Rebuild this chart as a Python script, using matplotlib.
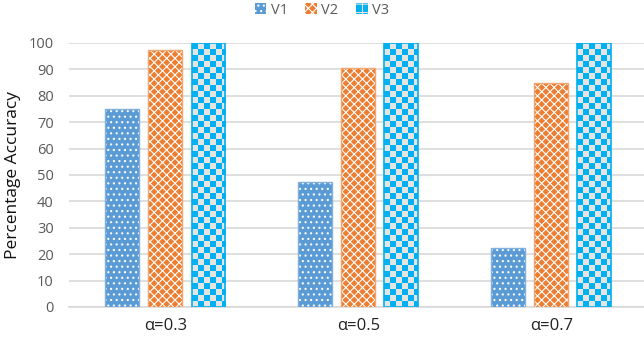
import numpy as np
import matplotlib.pyplot as plt
from matplotlib.patches import Patch
from matplotlib.colors import ListedColormap

plt.rcParams['font.family'] = ['Open Sans', 'DejaVu Sans']
plt.rcParams['hatch.linewidth'] = 0.8

categories = ['α=0.3', 'α=0.5', 'α=0.7']
series = ['V1', 'V2', 'V3']
v1 = [75, 47.5, 22.5]
v2 = [97.5, 90.5, 85]
v3 = [100, 100, 100]
yticks = list(range(0, 101, 10))

blue = '#5B9BD5'
orange = '#ED7D31'
cyan = '#00B0F0'
light = '#E4E4E4'

fig = plt.figure(figsize=(6.44, 3.38), dpi=100)
ax = fig.add_axes([69 / 644, 31 / 338, 575 / 644, 264 / 338])

x = np.arange(len(categories))
w = 0.176
off = 0.223
ax.set_xlim(-0.5, 2.48)
ax.set_ylim(0, 100)

# V1: white dots on blue
ax.bar(x - off, v1, w, color=blue, edgecolor='white', hatch='...', linewidth=0, zorder=3)
ax.bar(x - off, v1, w, fill=False, edgecolor='#7FB0DE', linewidth=1, zorder=4)

# V2: white crosses on orange
ax.bar(x, v2, w, color=orange, edgecolor='white', hatch='xxxx', linewidth=0, zorder=3)
ax.bar(x, v2, w, fill=False, edgecolor='#F4A46E', linewidth=1, zorder=4)

# V3: checkerboard clipped to each bar
bars3 = ax.bar(x + off, v3, w, color=light, linewidth=0, zorder=3)
px_per_x = 575 / (2.48 + 0.5)
px_per_y = 264 / 100
cell = 6.0
cmap = ListedColormap([cyan, light])
for b in bars3:
    bx, bw, bh = b.get_x(), b.get_width(), b.get_height()
    nx = int(np.ceil(bw * px_per_x / cell))
    ny = int(np.ceil(bh * px_per_y / cell))
    ii, jj = np.indices((ny, nx))
    board = ((ii + jj) % 2).astype(float)
    im = ax.imshow(board, cmap=cmap, interpolation='nearest', origin='upper',
                   extent=(bx, bx + nx * cell / px_per_x, bh - ny * cell / px_per_y, bh),
                   aspect='auto', zorder=3.5)
    im.set_clip_path(b)
ax.bar(x + off, v3, w, fill=False, edgecolor=cyan, linewidth=1.2, zorder=4)
ax.set_xlim(-0.5, 2.48)
ax.set_ylim(0, 100)

ax.set_xticks(x)
ax.set_xticklabels(categories, fontsize=12, color='#222222')
ax.set_yticks(yticks)
ax.tick_params(axis='y', labelsize=10.5, labelcolor='#595959', length=0, pad=11)
ax.tick_params(axis='x', length=0, pad=8)
ax.yaxis.grid(True, color='#D9D9D9', linewidth=1.2, zorder=0)
ax.set_axisbelow(True)
for s in ['top', 'right', 'left']:
    ax.spines[s].set_visible(False)
ax.spines['bottom'].set_color('#D9D9D9')
ax.spines['bottom'].set_linewidth(1.2)
ax.set_ylabel('Percentage Accuracy', fontsize=12.5, color='#111111', labelpad=6)
ax.yaxis.set_label_coords(-0.083, 0.5)

handles = [
    Patch(facecolor=blue, edgecolor='white', hatch='...', linewidth=0),
    Patch(facecolor=orange, edgecolor='white', hatch='xxxx', linewidth=0),
    Patch(facecolor=cyan, edgecolor=light, hatch='++', linewidth=0),
]
fig.legend(handles, series, loc='upper center', bbox_to_anchor=(0.5, 1.03), ncol=3,
           frameon=False, fontsize=10.5, labelcolor='#595959', handlelength=0.8,
           handleheight=0.8, handletextpad=0.3, columnspacing=1.2)

fig.savefig('out.png', dpi=100)
